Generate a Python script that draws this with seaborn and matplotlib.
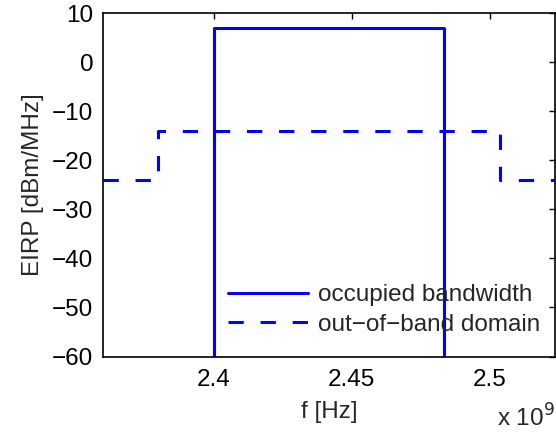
import numpy as np
import pandas as pd
import matplotlib
matplotlib.use("Agg")
import matplotlib.pyplot as plt
import seaborn as sns
from matplotlib.ticker import FuncFormatter

# ------------------------------
# Data (frequencies in Hz, EIRP in dBm/MHz)
# ------------------------------
occupied_f = [2.4e9, 2.4e9, 2.4835e9, 2.4835e9]
occupied_eirp = [-60, 7, 7, -60]

oob_f = [2.36e9, 2.38e9, 2.38e9, 2.5035e9, 2.5035e9, 2.5235e9]
oob_eirp = [-24, -24, -14, -14, -24, -24]

x_ticks = [2.4e9, 2.45e9, 2.5e9]
y_ticks = [-60, -50, -40, -30, -20, -10, 0, 10]

# ------------------------------
# Style
# ------------------------------
sns.set_style("white")
plt.rcParams['font.family'] = ['Liberation Sans', 'DejaVu Sans']
plt.rcParams['axes.unicode_minus'] = True
fs = 17.5

fig = plt.figure(figsize=(5.56, 4.43), dpi=100)
ax = fig.add_axes([103 / 556, 1 - 356.5 / 443, 452 / 556, 343.2 / 443])

df_occ = pd.DataFrame({'f': occupied_f, 'eirp': occupied_eirp})
df_oob = pd.DataFrame({'f': oob_f, 'eirp': oob_eirp})

sns.lineplot(data=df_occ, x='f', y='eirp', sort=False, estimator=None,
             color='#0000ff', linewidth=2.2, label='occupied bandwidth', ax=ax)
sns.lineplot(data=df_oob, x='f', y='eirp', sort=False, estimator=None,
             color='#0000ff', linewidth=2.2, label='out\u2212of\u2212band domain', ax=ax)
ax.lines[1].set_dashes((5, 5.5))

ax.set_xlim(2.36e9, 2.5235e9)
ax.set_ylim(-60, 10)
ax.set_xticks(x_ticks)
ax.set_yticks(y_ticks)
ax.xaxis.set_major_formatter(FuncFormatter(lambda v, p: f"{v / 1e9:g}"))
ax.tick_params(direction='in', length=4, width=1, top=True, right=True,
               colors='black', labelsize=fs)
ax.tick_params(axis='y', pad=7)
ax.tick_params(axis='x', pad=9)
for s in ax.spines.values():
    s.set_color('black')
    s.set_linewidth(1.2)

ax.set_xlabel("f [Hz]", fontsize=fs, labelpad=7)
ax.set_ylabel("EIRP [dBm/MHz]", fontsize=fs, labelpad=6)

fig.text(497 / 556, 1 - 427 / 443, r"x 10$^{9}$", fontsize=fs, ha='left', va='baseline')

leg = ax.legend(loc='upper left', bbox_to_anchor=(0.276, 0.21), frameon=False,
                handlelength=3.3, handletextpad=0.4, labelspacing=0.3,
                borderaxespad=0, borderpad=0, fontsize=fs)

fig.savefig("out.png", dpi=100)
